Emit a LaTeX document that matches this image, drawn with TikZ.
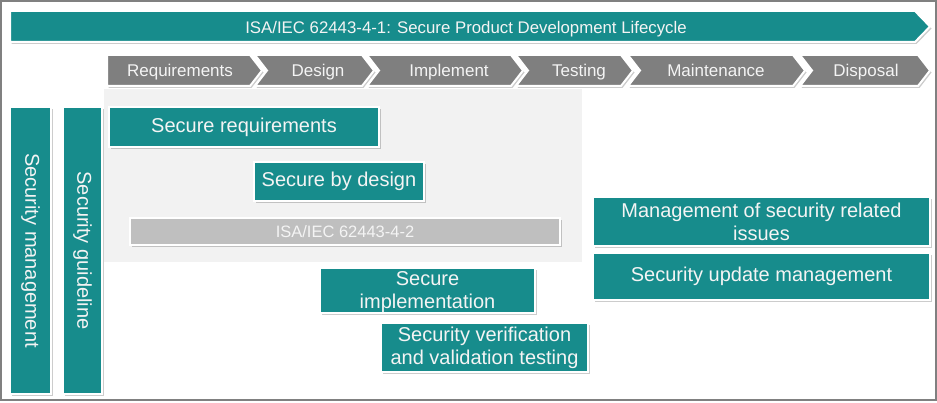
\documentclass[tikz,border=0pt]{standalone}
\usepackage{fontspec}
\setmainfont{Liberation Sans}
\usetikzlibrary{shadows}
\definecolor{tealbox}{HTML}{178C8C}
\definecolor{chgray}{HTML}{7F7F7F}
\definecolor{bargray}{HTML}{BFBFBF}
\definecolor{panelgray}{HTML}{F2F2F2}
\definecolor{framegray}{HTML}{808080}
\definecolor{lighttxt}{HTML}{F4F4F4}
\begin{document}
\begin{tikzpicture}[x=1pt,y=-1pt,
  shd/.style={drop shadow={shadow xshift=1.5pt,shadow yshift=-2pt,opacity=0.2,fill=black}},
  tbox/.style={shd,fill=tealbox,draw=white,line width=2pt,text=lighttxt,
    font=\fontsize{20}{23}\selectfont,align=center,inner sep=0pt},
  gbox/.style={shd,fill=bargray,draw=white,line width=2pt,text=lighttxt,
    font=\fontsize{16.5}{19}\selectfont,inner sep=0pt},
  chevshape/.style={shd,fill=chgray,draw=white,line width=2pt,line join=miter},
  chevtxt/.style={text=lighttxt,font=\fontsize{17}{20}\selectfont,inner sep=0pt,anchor=base},
  arrowshape/.style={shd,fill=tealbox,draw=white,line width=2pt},
]
\useasboundingbox (0,0) rectangle (937,403);
\fill[white] (0,0) rectangle (937,403);
% light panel
\fill[panelgray] (104,89) rectangle (582,262);
% top arrow
\path[arrowshape] (10,11) -- (915,11) -- (930,26.5) -- (915,42) -- (10,42) -- cycle;
\node[chevtxt,font=\fontsize{16.8}{20}\selectfont] (title) at (466,33.5) {ISA/IEC 62443-4-1: Secure Product Development Lifecycle};
% chevrons
\path[chevshape] (107,55) -- (250,55) -- (262,70.5) -- (250,86) -- (107,86) -- cycle;
\node[chevtxt] (req) at (180,77) {Requirements};
\path[chevshape] (255,55) -- (362,55) -- (374,70.5) -- (362,86) -- (255,86) -- (267,70.5) -- cycle;
\node[chevtxt] (des) at (318,77) {Design};
\path[chevshape] (367,55) -- (511,55) -- (523,70.5) -- (511,86) -- (367,86) -- (379,70.5) -- cycle;
\node[chevtxt] (imp) at (449,77) {Implement};
\path[chevshape] (516,55) -- (621,55) -- (633,70.5) -- (621,86) -- (516,86) -- (528,70.5) -- cycle;
\node[chevtxt] (tst) at (579,77) {Testing};
\path[chevshape] (628,55) -- (793,55) -- (805,70.5) -- (793,86) -- (628,86) -- (640,70.5) -- cycle;
\node[chevtxt] (mnt) at (716,77) {Maintenance};
\path[chevshape] (800,55) -- (918,55) -- (930,70.5) -- (918,86) -- (800,86) -- (812,70.5) -- cycle;
\node[chevtxt] (dsp) at (866,77) {Disposal};
% vertical bars
\node[tbox,minimum width=41pt,minimum height=287pt] (smgmt) at (30.5,250.5) {\rotatebox{-90}{Security management}};
\node[tbox,minimum width=39pt,minimum height=287pt] (sguide) at (82.5,250.5) {\rotatebox{-90}{Security guideline}};
% boxes
\node[tbox,minimum width=270pt,minimum height=40pt] (sreq) at (244,127) {\raisebox{-1.5pt}{Secure requirements}};
\node[tbox,minimum width=170pt,minimum height=39pt] (sdes) at (339,181.5) {\raisebox{-1pt}{Secure by design}};
\node[gbox,minimum width=430pt,minimum height=27pt] (isa42) at (345,231.5) {ISA/IEC 62443-4-2};
\node[tbox,minimum width=215pt,minimum height=45pt] (simp) at (427.5,290.5) {};
\node[text=lighttxt,font=\fontsize{20}{23}\selectfont,align=center,inner sep=0pt] (simptxt) at ([yshift=-2pt]simp.center) {Secure\\implementation};
\node[tbox,minimum width=207pt,minimum height=49pt] (sver) at (484.5,347.5) {Security verification\\and validation testing};
\node[tbox,minimum width=337pt,minimum height=49pt] (mgmt) at (761.5,221.5) {Management of security related\\issues};
\node[tbox,minimum width=337pt,minimum height=47pt] (supd) at (761.5,276.5) {Security update management};
% frame
\draw[framegray,line width=2pt] (1,1) rectangle (936,400);
\end{tikzpicture}
\end{document}
